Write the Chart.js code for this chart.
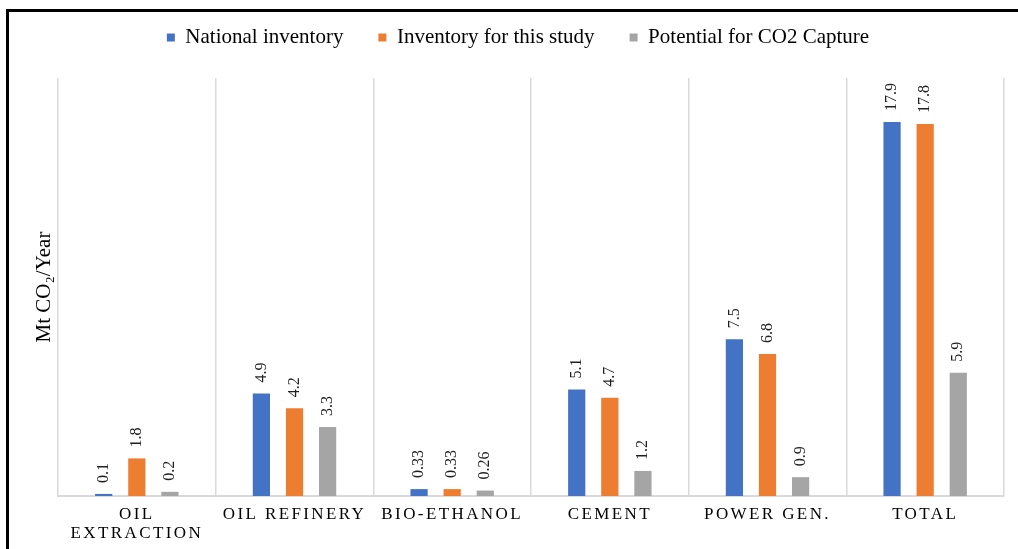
<!DOCTYPE html>
<html>
<head>
<meta charset="utf-8">
<script src="https://cdn.jsdelivr.net/npm/chart.js@4/dist/chart.umd.min.js"></script>
<style>
  html, body { margin: 0; padding: 0; background: #fff; }
  #wrap { position: relative; width: 1018px; height: 549px; overflow: hidden; }
  #frame {
    position: absolute; left: 6px; top: 9px; width: 1100px; height: 600px;
    border-top: 3px solid #000; border-left: 3px solid #000; pointer-events: none;
  }
</style>
</head>
<body>
<div id="wrap">
  <canvas id="co2Chart" width="1018" height="549"></canvas>
  <div id="frame"></div>
</div>
<script>
// Категории и значения (Mt CO2 в год)
const categories = [["OIL", "EXTRACTION"], "OIL REFINERY", "BIO-ETHANOL", "CEMENT", "POWER GEN.", "TOTAL"];
const nationalInventory = [0.1, 4.9, 0.33, 5.1, 7.5, 17.9];
const studyInventory = [1.8, 4.2, 0.33, 4.7, 6.8, 17.8];
const capturePotential = [0.2, 3.3, 0.26, 1.2, 0.9, 5.9];
const seriesNames = ["National inventory", "Inventory for this study", "Potential for CO2 Capture"];

const serif = "'Liberation Serif', 'Times New Roman', serif";

// Подписи значений над столбцами, повернутые на 90°
const valueLabels = {
  id: "valueLabels",
  afterDatasetsDraw(chart) {
    const ctx = chart.ctx;
    ctx.save();
    ctx.font = "16px " + serif;
    ctx.fillStyle = "#1f1f1f";
    ctx.textAlign = "left";
    ctx.textBaseline = "middle";
    chart.data.datasets.forEach((ds, i) => {
      chart.getDatasetMeta(i).data.forEach((bar, j) => {
        ctx.save();
        ctx.translate(bar.x, bar.y - 11);
        ctx.rotate(-Math.PI / 2);
        ctx.fillText(String(ds.data[j]), 0, 0);
        ctx.restore();
      });
    });
    ctx.restore();
  },
};

// Разрядка букв в подписях оси X
const spacedTicks = {
  id: "spacedTicks",
  beforeDraw(chart) {
    const scale = chart.scales.x;
    if (scale._spaced) return;
    const orig = scale.drawLabels.bind(scale);
    scale.drawLabels = (area) => {
      chart.ctx.save();
      chart.ctx.letterSpacing = "2.4px";
      orig(area);
      chart.ctx.restore();
    };
    scale._spaced = true;
  },
};

new Chart(document.getElementById("co2Chart"), {
  type: "bar",
  data: {
    labels: categories,
    datasets: [
      { label: seriesNames[0], data: nationalInventory, backgroundColor: "#4472C4" },
      { label: seriesNames[1], data: studyInventory, backgroundColor: "#ED7D31" },
      { label: seriesNames[2], data: capturePotential, backgroundColor: "#A5A5A5" },
    ],
  },
  options: {
    responsive: false,
    animation: false,
    categoryPercentage: 0.63,
    barPercentage: 0.52,
    layout: { padding: { top: -8, left: 32, right: 14, bottom: 0 } },
    plugins: {
      tooltip: { enabled: false },
      legend: {
        position: "top",
        weight: 1000,
        labels: {
          boxWidth: 8,
          boxHeight: 8,
          padding: 35,
          color: "#000",
          font: { family: serif, size: 21 },
        },
      },
      // пустой заголовок как отступ между легендой и областью графика
      title: {
        display: true,
        text: "",
        weight: 500,
        font: { size: 10, lineHeight: 1 },
        padding: { top: 0, bottom: 10 },
      },
    },
    scales: {
      x: {
        grid: { display: true, offset: true, color: "#d9d9d9", lineWidth: 1.5, drawTicks: false },
        border: { display: true, color: "#d9d9d9", width: 2 },
        ticks: {
          color: "#000",
          padding: 9,
          maxRotation: 0,
          autoSkip: false,
          font: { family: serif, size: 17, lineHeight: 1.12 },
        },
        afterFit: (scale) => { scale.height = 53; },
      },
      y: {
        min: 0,
        max: 20,
        grid: { display: false, drawTicks: false },
        border: { display: false },
        ticks: { display: false },
        title: {
          display: true,
          text: "Mt CO₂/Year",
          color: "#000",
          font: { family: serif, size: 21 },
          padding: { top: 0, bottom: 0 },
        },
        afterFit: (scale) => { scale.width = 26; },
      },
    },
  },
  plugins: [valueLabels, spacedTicks],
});
</script>
</body>
</html>
